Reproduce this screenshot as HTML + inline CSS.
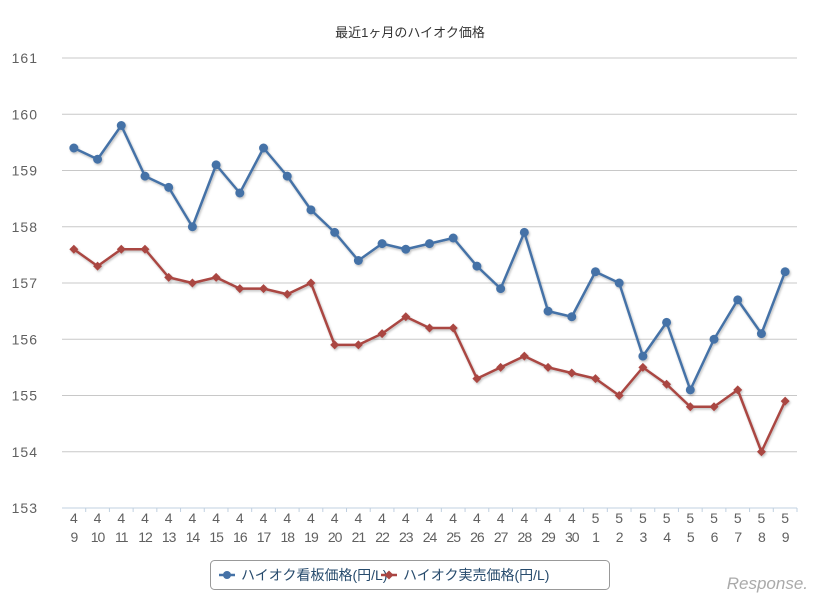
<!DOCTYPE html>
<html><head><meta charset="utf-8"><style>
body{margin:0;background:#fff;}
svg text{font-family:"Liberation Sans","Noto Sans CJK JP",sans-serif;}
</style></head><body>
<svg id="c" width="820" height="605" xmlns="http://www.w3.org/2000/svg">
<defs><filter id="sh" x="-5%" y="-5%" width="110%" height="120%"><feDropShadow dx="1" dy="1.5" stdDeviation="1" flood-color="#000" flood-opacity="0.25"/></filter></defs>
<text x="410" y="37" text-anchor="middle" font-size="13" fill="#333">最近1ヶ月のハイオク価格</text>
<g id="grid"></g><g id="xl"></g><g id="series"></g>
<g>
<rect x="210.5" y="560.5" width="399" height="29" rx="4" fill="#fff" stroke="#999"/>
<g>
<line x1="219" y1="575" x2="235" y2="575" stroke="#4572a7" stroke-width="2.5"/><circle cx="227" cy="575" r="4" fill="#4572a7"/>
<text x="241" y="580" font-size="14" fill="#274b6d">ハイオク看板価格(円/L)</text></g>
<g>
<line x1="381" y1="575" x2="397" y2="575" stroke="#aa4643" stroke-width="2.5"/><path d="M389 570.5 L393.5 575 L389 579.5 L384.5 575Z" fill="#aa4643"/>
<text x="403" y="580" font-size="14" fill="#274b6d">ハイオク実売価格(円/L)</text></g>
</g>
<text x="808" y="589" text-anchor="end" font-size="17" fill="#aaa" font-style="italic">Response.</text>
</svg>
<script>
const months=[4,4,4,4,4,4,4,4,4,4,4,4,4,4,4,4,4,4,4,4,4,4,5,5,5,5,5,5,5,5,5];
const days=[9,10,11,12,13,14,15,16,17,18,19,20,21,22,23,24,25,26,27,28,29,30,1,2,3,4,5,6,7,8,9];
const kanban=[159.4,159.2,159.8,158.9,158.7,158.0,159.1,158.6,159.4,158.9,158.3,157.9,157.4,157.7,157.6,157.7,157.8,157.3,156.9,157.9,156.5,156.4,157.2,157.0,155.7,156.3,155.1,156.0,156.7,156.1,157.2];
const jitsubai=[157.6,157.3,157.6,157.6,157.1,157.0,157.1,156.9,156.9,156.8,157.0,155.9,155.9,156.1,156.4,156.2,156.2,155.3,155.5,155.7,155.5,155.4,155.3,155.0,155.5,155.2,154.8,154.8,155.1,154.0,154.9];
const yTicks=[153,154,155,156,157,158,159,160,161];
const NS="http://www.w3.org/2000/svg";
const L=62,R=797,T=58,B=508,yMin=153,yMax=161;
const y=v=>B-(v-yMin)/(yMax-yMin)*(B-T);
const step=(R-L)/days.length;
const x=i=>L+step*(i+0.5);
function mk(tag,a,p){const e=document.createElementNS(NS,tag);for(const k in a)e.setAttribute(k,a[k]);p.appendChild(e);return e;}
const grid=document.getElementById('grid');
yTicks.forEach(t=>{
 const ln=mk('line',{x1:L,x2:R,y1:y(t),y2:y(t),stroke:t===153?'#c0d0e0':'#c8c8c8','stroke-width':1},grid);
 
 
 const tx=mk('text',{x:38,y:y(t)+5,'text-anchor':'end','font-size':14,fill:'#606060','letter-spacing':'1'},grid);
 tx.textContent=t;
 
 
});
const xl=document.getElementById('xl');
days.forEach((d,i)=>{
 const tk=mk('line',{x1:L+step*(i+1),x2:L+step*(i+1),y1:B,y2:B+4,stroke:'#c0d0e0'},xl);
 
 
 const t1=mk('text',{x:x(i),y:523,'text-anchor':'middle','font-size':14,fill:'#606060'},xl);
 t1.textContent=months[i];
 
 
 const t2=mk('text',{x:x(i),y:542,'text-anchor':'middle','font-size':14,fill:'#606060','letter-spacing':'-1'},xl);
 t2.textContent=days[i];
 
 
});
const sg=document.getElementById('series');
function series(data,color,name,diamond){
 const g=mk('g',{filter:'url(#sh)'},sg);
 
 
 const pl=mk('polyline',{points:data.map((v,i)=>x(i)+','+y(v)).join(' '),fill:'none',stroke:color,'stroke-width':2.5,'stroke-linejoin':'round'},g);
 
 
 data.forEach((v,i)=>{
  let m;
  if(diamond){const cx=x(i),cy=y(v);m=mk('path',{d:`M${cx} ${cy-4.5}L${cx+4.5} ${cy}L${cx} ${cy+4.5}L${cx-4.5} ${cy}Z`,fill:color},g);}
  else m=mk('circle',{cx:x(i),cy:y(v),r:4.5,fill:color},g);
  
  
 });
}
series(jitsubai,'#aa4643','jitsubai',true);
series(kanban,'#4572a7','kanban',false);
</script>
</body></html>
